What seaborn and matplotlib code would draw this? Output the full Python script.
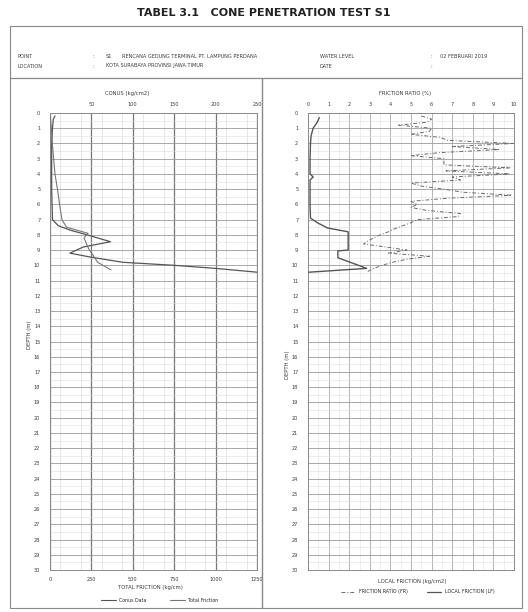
import numpy as np
import pandas as pd
import matplotlib
matplotlib.use("Agg")
import matplotlib.pyplot as plt
from matplotlib.patches import Rectangle
from matplotlib.lines import Line2D
import seaborn as sns

# ==========================================
# DATA
# ==========================================

# cone resistance qc (kg/cm2), top axis of left panel
qc_depth = [0.2, 0.4, 1.0, 2.0, 3.0, 4.0, 5.0, 6.0, 7.0, 7.4, 7.7, 8.0,
            8.45, 8.8, 9.2, 9.45, 9.8, 10.0, 10.2, 10.45]
qc_value = [6, 4, 3, 2, 2, 2, 2, 2.5, 3, 10, 25, 45,
            73, 40, 24, 48, 88, 150, 200, 250]

# total friction (kg/cm), bottom axis of left panel
tf_depth = [0.2, 1.0, 2.0, 3.0, 4.0, 5.0, 6.0, 7.0, 7.5, 7.9, 8.2, 8.9,
            9.8, 10.3]
tf_value = [2, 8, 14, 22, 30, 45, 58, 72, 100, 230, 205, 233,
            288, 368]

# local friction (kg/cm2), solid line in right panel
lf_depth = [0.3, 0.6, 1.0, 1.5, 2.0, 3.0, 4.0, 4.2, 4.4, 5.0, 6.0, 6.9,
            7.2, 7.55, 7.8, 9.0, 9.05, 9.5, 10.2, 10.45]
lf_value = [0.55, 0.45, 0.25, 0.15, 0.12, 0.1, 0.1, 0.25, 0.1, 0.1, 0.1, 0.12,
            0.45, 0.95, 1.95, 1.95, 1.45, 1.45, 2.85, 0.05]

# friction ratio (%), dashed line in right panel
fr_depth = [0.2, 0.4, 0.6, 0.8, 1.0, 1.2, 1.4, 1.6, 1.8, 2.0, 2.2, 2.4,
            2.6, 2.8, 3.0, 3.2, 3.4, 3.6, 3.8, 4.0, 4.2, 4.4, 4.6, 4.8,
            5.0, 5.2, 5.4, 5.6, 5.8, 6.0, 6.2, 6.4, 6.6, 6.8, 7.0, 7.2,
            7.4, 7.6, 7.8, 8.0, 8.2, 8.4, 8.6, 8.8, 9.0, 9.2, 9.4, 9.6,
            9.8, 10.0, 10.2, 10.4]
fr_value = [5.5, 6.0, 5.8, 4.4, 6.0, 5.9, 5.0, 6.4, 6.8, 10.0, 7.0, 9.3,
            6.4, 5.0, 6.6, 6.6, 6.6, 9.8, 6.7, 9.8, 7.0, 7.4, 5.0, 5.5,
            6.6, 7.5, 9.9, 6.7, 5.0, 5.3, 5.0, 5.8, 7.4, 7.3, 5.3, 5.0,
            4.6, 4.2, 3.9, 3.5, 3.2, 2.9, 2.7, 3.8, 4.8, 3.9, 5.9, 4.8,
            4.1, 3.6, 3.2, 2.9]

depth_ticks = list(range(0, 31))
qc_ticks = [0, 50, 100, 150, 200, 250]
qc_labels = ["", "50", "100", "150", "200", "250"]
tf_ticks = [0, 250, 500, 750, 1000, 1250]
fr_ticks = list(range(0, 11))

# ==========================================
# FIGURE
# ==========================================

sns.set_style("white")
plt.rcParams['font.family'] = ['DejaVu Sans']

ink = '#3a3a3a'
line_col = '#555555'
fr_dash = (0, (4, 2, 1, 2))

fig = plt.figure(figsize=(5.28, 6.12), dpi=100)


def fx(px):
    return px / 528


def fy(py):
    return 1 - py / 612


# page frame and header
fig.text(0.5, fy(13), "TABEL 3.1   CONE PENETRATION TEST S1", ha='center', va='center',
         fontsize=8, fontweight='bold', color='#222222')

frame = Rectangle((fx(10), fy(608)), fx(512), (608 - 26) / 612,
                  transform=fig.transFigure, fill=False, lw=0.8, ec='#888888')
fig.add_artist(frame)
fig.add_artist(Line2D([fx(10), fx(522)], [fy(78), fy(78)],
                      transform=fig.transFigure, lw=0.9, color='#888888'))
fig.add_artist(Line2D([fx(262), fx(262)], [fy(608), fy(78)],
                      transform=fig.transFigure, lw=1.0, color='#888888'))

hdr = dict(fontsize=3.6, color=ink, va='center')
fig.text(fx(18), fy(57), "POINT", **hdr)
fig.text(fx(92), fy(57), ":", **hdr)
fig.text(fx(106), fy(57), "S1", **hdr)
fig.text(fx(122), fy(57), "RENCANA GEDUNG TERMINAL PT. LAMPUNG PERDANA", **hdr)
fig.text(fx(320), fy(57), "WATER LEVEL", **hdr)
fig.text(fx(430), fy(57), ":", **hdr)
fig.text(fx(440), fy(57), "02 FEBRUARI 2019", **hdr)
fig.text(fx(18), fy(66), "LOCATION", **hdr)
fig.text(fx(92), fy(66), ":", **hdr)
fig.text(fx(106), fy(66), "KOTA SURABAYA PROVINSI JAWA TIMUR", **hdr)
fig.text(fx(320), fy(66), "DATE", **hdr)
fig.text(fx(430), fy(66), ":", **hdr)

# axes positions (pixel measured)
ax_l = fig.add_axes([fx(50), fy(570), fx(207), 457 / 612])
ax_r = fig.add_axes([fx(308), fy(570), fx(206), 457 / 612])


def style_depth_axis(ax):
    ax.set_ylim(30, 0)
    ax.set_yticks(depth_ticks)
    ax.set_yticks(np.arange(0.5, 30, 1), minor=True)
    ax.tick_params(axis='y', which='both', labelsize=3.6, length=0, pad=7, colors=ink)
    ax.grid(axis='y', which='major', color='#9a9a9a', lw=0.6)
    ax.grid(axis='y', which='minor', color='#dddddd', lw=0.4)
    for s in ax.spines.values():
        s.set_color('#8a8a8a')
        s.set_linewidth(0.7)


# ------------------------------------------
# LEFT PANEL: qc (top) + total friction (bottom)
# ------------------------------------------

style_depth_axis(ax_l)
sns.lineplot(x=qc_value, y=qc_depth, sort=False, estimator=None, ax=ax_l,
             color=line_col, lw=0.9)
ax_l.set_ylim(30, 0)

ax_l2 = ax_l.twiny()
sns.lineplot(x=tf_value, y=tf_depth, sort=False, estimator=None, ax=ax_l2,
             color='#777777', lw=0.8)
ax_l2.set_ylim(30, 0)
for s in ax_l2.spines.values():
    s.set_visible(False)

# qc on top
ax_l.set_xlim(0, 250)
ax_l.xaxis.tick_top()
ax_l.set_xticks(qc_ticks)
ax_l.set_xticklabels(qc_labels)
ax_l.set_xticks(np.arange(12.5, 250, 25), minor=True)
ax_l.grid(axis='x', which='major', color='#777777', lw=0.9)
ax_l.grid(axis='x', which='minor', color='#d4d4d4', lw=0.4)
ax_l.tick_params(axis='x', which='both', labelsize=3.6, length=0, pad=4, colors=ink,
                 top=True, labeltop=True, bottom=False, labelbottom=False)
ax_l.set_xlabel("")
ax_l.set_ylabel("")

# total friction on bottom
ax_l2.set_xlim(0, 1250)
ax_l2.set_xticks(tf_ticks)
ax_l2.tick_params(axis='x', labelsize=3.6, length=0, pad=5, colors=ink,
                  top=False, labeltop=False, bottom=True, labelbottom=True)
ax_l2.set_xlabel("")

fig.text(fx(127), fy(93), "CONUS (kg/cm2)", fontsize=3.8, color=ink, ha='center', va='center')
fig.text(fx(150), fy(588), "TOTAL FRICTION (kg/cm)", fontsize=3.8, color=ink, ha='center', va='center')
fig.text(fx(29), fy(335), "DEPTH (m)", fontsize=3.8, color=ink, ha='center', va='center', rotation=90)

fig.legend(handles=[Line2D([], [], color=line_col, lw=0.8),
                    Line2D([], [], color='#777777', lw=0.8)],
           labels=["Conus Data", "Total Friction"],
           loc='center', bbox_to_anchor=(fx(160), fy(600)), ncol=2,
           frameon=False, fontsize=3.4, handlelength=3, columnspacing=5)

# ------------------------------------------
# RIGHT PANEL: friction ratio (top) + local friction (bottom)
# ------------------------------------------

style_depth_axis(ax_r)
sns.lineplot(x=fr_value, y=fr_depth, sort=False, estimator=None, ax=ax_r,
             color='#6a6a6a', lw=0.7, linestyle=fr_dash)
ax_r.set_ylim(30, 0)

ax_r2 = ax_r.twiny()
sns.lineplot(x=lf_value, y=lf_depth, sort=False, estimator=None, ax=ax_r2,
             color=line_col, lw=1.0)
ax_r2.set_ylim(30, 0)
for s in ax_r2.spines.values():
    s.set_visible(False)

ax_r.set_xlim(0, 10)
ax_r.xaxis.tick_top()
ax_r.set_xticks(fr_ticks)
ax_r.set_xticks(np.arange(0.5, 10, 1), minor=True)
ax_r.grid(axis='x', which='major', color='#a8a8a8', lw=0.6)
ax_r.grid(axis='x', which='minor', color='#e2e2e2', lw=0.4)
ax_r.tick_params(axis='x', which='both', labelsize=3.6, length=0, pad=4, colors=ink,
                 top=True, labeltop=True, bottom=False, labelbottom=False)
ax_r.set_xlabel("")
ax_r.set_ylabel("")

ax_r2.set_xlim(0, 10)
ax_r2.set_xticks([])
ax_r2.set_xlabel("")

fig.text(fx(405), fy(93), "FRICTION RATIO (%)", fontsize=3.8, color=ink, ha='center', va='center')
fig.text(fx(412), fy(581), "LOCAL FRICTION (kg/cm2)", fontsize=3.8, color=ink, ha='center', va='center')
fig.text(fx(287), fy(365), "DEPTH (m)", fontsize=3.8, color=ink, ha='center', va='center', rotation=90)

fig.legend(handles=[Line2D([], [], color='#6a6a6a', lw=0.7, linestyle=fr_dash),
                    Line2D([], [], color=line_col, lw=0.9)],
           labels=["FRICTION RATIO (FR)", "LOCAL FRICTION (LF)"],
           loc='center', bbox_to_anchor=(fx(418), fy(592)), ncol=2,
           frameon=False, fontsize=3.4, handlelength=3, columnspacing=4)

plt.savefig("out.png", dpi=100)
